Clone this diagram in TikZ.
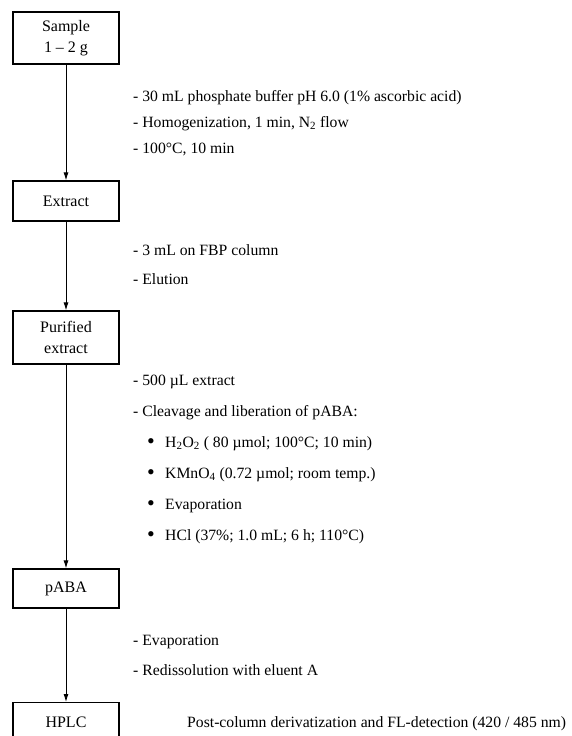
\documentclass[tikz,border=0pt]{standalone}
\usepackage{fontspec}
\setmainfont{Liberation Serif}
\usetikzlibrary{arrows.meta}

\begin{document}
\begin{tikzpicture}[x=1pt, y=-1pt,
    stepbox/.style={draw, line width=1.2pt, minimum width=106pt, inner sep=0pt,
      align=center, font=\fontsize{16}{21}\selectfont},
    note/.style={anchor=base west, inner sep=0pt, font=\fontsize{15.7}{18}\selectfont},
    dot/.style={anchor=base, inner sep=0pt, font=\fontsize{22}{22}\selectfont},
    flow/.style={line width=0.9pt, -{Latex[length=8pt,width=5pt]}}]
      \useasboundingbox (0,0) rectangle (571,736);
      % steps
      \node[stepbox, minimum height=52pt] (sample)   at (66,38)    {Sample\\1 -- 2 g};
      \node[stepbox, minimum height=40pt] (extract)  at (66,201)   {Extract};
      \node[stepbox, minimum height=53pt] (purified) at (66,337.5) {Purified\\extract};
      \node[stepbox, minimum height=39pt] (paba)     at (66,588.5) {pABA};
      \node[stepbox, minimum height=40pt, anchor=north] (hplc) at (66,702) {HPLC};
      \draw[flow] (sample)   -- (extract);
      \draw[flow] (extract)  -- (purified);
      \draw[flow] (purified) -- (paba);
      \draw[flow] (paba)     -- (hplc);
      % conditions
      \node[note] (c1) at (133,101) {- 30 mL phosphate buffer pH 6.0 (1\% ascorbic acid)};
      \node[note] (c2) at (133,127) {- Homogenization, 1 min, N\textsubscript{2} flow};
      \node[note] (c3) at (133,153) {- 100°C, 10 min};
      \node[note] (c4) at (133,255) {- 3 mL on FBP column};
      \node[note] (c5) at (133,284) {- Elution};
      \node[note] (c6) at (133,385) {- 500 µL extract};
      \node[note] (c7) at (133,416) {- Cleavage and liberation of pABA:};
      \node[dot] (b1) at (151,448) {\textbullet};
      \node[note] (c8) at (165,447) {H\textsubscript{2}O\textsubscript{2} ( 80 µmol; 100°C; 10 min)};
      \node[dot] (b2) at (151,479) {\textbullet};
      \node[note] (c9) at (165,478) {KMnO\textsubscript{4} (0.72 µmol; room temp.)};
      \node[dot] (b3) at (151,510) {\textbullet};
      \node[note] (c10) at (165,509) {Evaporation};
      \node[dot] (b4) at (151,541) {\textbullet};
      \node[note] (c11) at (165,540) {HCl (37\%; 1.0 mL; 6 h; 110°C)};
      \node[note] (c12) at (133,645) {- Evaporation};
      \node[note] (c13) at (133,675) {- Redissolution with eluent A};
      \node[note] (c14) at (187,727) {Post-column derivatization and FL-detection (420 / 485 nm)};
    \end{tikzpicture}
\end{document}
